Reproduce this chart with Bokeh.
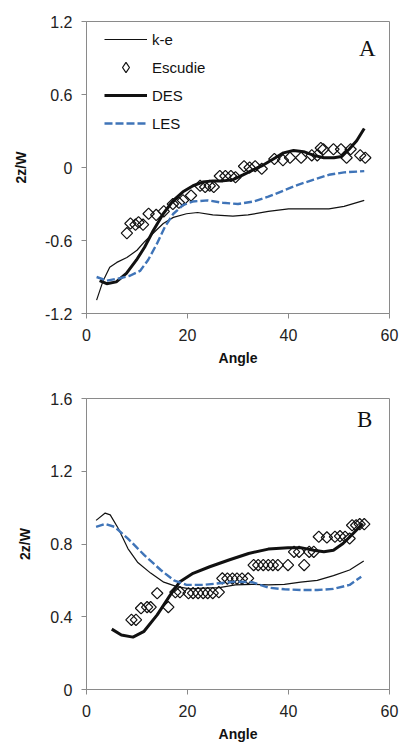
import math
from bokeh.plotting import figure
from bokeh.layouts import column
from bokeh.models import FixedTicker, Label, Range1d, Legend, LegendItem
from bokeh.embed import file_html
from bokeh.resources import INLINE

# ---------------- Panel A data ----------------
ke_a_x = [2, 3.3, 4.6, 6, 8, 10, 11.5, 13.2, 15.2, 17.2, 19.8, 22, 25, 29, 32, 36, 40, 44, 48, 51, 55]
ke_a_y = [-1.09, -0.93, -0.82, -0.78, -0.74, -0.68, -0.61, -0.54, -0.46, -0.41, -0.38, -0.37,
          -0.39, -0.40, -0.39, -0.36, -0.34, -0.34, -0.34, -0.32, -0.27]

des_a_x = [2.6, 4, 5.9, 7.9, 9.9, 11.5, 13.2, 15.2, 17.2, 19.1, 21.1, 23, 25, 27, 29, 31, 33, 35,
           37, 39, 41, 43, 45, 47, 49, 50.5, 52, 53.5, 55]
des_a_y = [-0.93, -0.955, -0.94, -0.87, -0.76, -0.655, -0.52, -0.38, -0.27, -0.20, -0.15, -0.12,
           -0.11, -0.11, -0.10, -0.06, -0.02, 0.02, 0.07, 0.12, 0.14, 0.13, 0.10, 0.08, 0.08,
           0.09, 0.15, 0.22, 0.32]

les_a_x = [2, 4, 6.6, 8.6, 10.6, 12.2, 13.9, 15.5, 17.2, 19.1, 21, 24, 27, 30, 33, 36, 39, 42,
           45, 48, 51, 55]
les_a_y = [-0.90, -0.93, -0.91, -0.89, -0.85, -0.76, -0.63, -0.49, -0.38, -0.31, -0.28, -0.27,
           -0.29, -0.30, -0.28, -0.24, -0.19, -0.14, -0.10, -0.06, -0.04, -0.03]

esc_a_x = [8.0, 8.7, 9.7, 10.3, 11.2, 12.3, 13.8, 15.3, 17.1, 18.3, 19.1, 20.7, 22.5, 23.5, 24.4,
           25.2, 26.4, 27.5, 28.6, 29.5, 31.2, 32.3, 33.4, 34.7, 37.2, 38.9, 40.3, 42.5, 44.6,
           45.7, 46.4, 46.9, 48.9, 50.4, 51.5, 52.3, 54.2, 55.2]
esc_a_y = [-0.54, -0.46, -0.47, -0.45, -0.47, -0.38, -0.39, -0.36, -0.30, -0.29, -0.27, -0.23,
           -0.15, -0.16, -0.15, -0.16, -0.07, -0.07, -0.07, -0.08, 0.01, 0.00, 0.01, -0.01,
           0.07, 0.06, 0.08, 0.08, 0.10, 0.10, 0.16, 0.15, 0.15, 0.15, 0.08, 0.15, 0.10, 0.08]

# ---------------- Panel B data ----------------
ke_b_x = [1.9, 3.7, 4.7, 6.3, 8.2, 10.1, 12.7, 15.3, 17.9, 20.5, 23.1, 26.3, 29.5, 32.8, 36,
          39.2, 42.4, 45.7, 48.9, 52.1, 54.9]
ke_b_y = [0.93, 0.97, 0.96, 0.885, 0.775, 0.70, 0.64, 0.59, 0.566, 0.553, 0.557, 0.56, 0.575,
          0.578, 0.575, 0.578, 0.59, 0.60, 0.626, 0.657, 0.706]

les_b_x = [1.9, 3.7, 5.6, 8.2, 11.4, 14.7, 17.3, 19.8, 23.1, 26.3, 29.5, 32.8, 36, 39.2, 42.4,
           45.7, 48.9, 52.1, 54.4]
les_b_y = [0.894, 0.91, 0.894, 0.83, 0.74, 0.657, 0.60, 0.575, 0.575, 0.584, 0.593, 0.59, 0.56,
           0.551, 0.547, 0.547, 0.553, 0.575, 0.62]

des_b_x = [5.0, 6.9, 9.2, 11.4, 14.0, 16.6, 18.5, 21.1, 24.4, 28.2, 32.1, 36.0, 39.9, 42.4, 45.0,
           47.0, 48.9, 50.8, 52.8, 54.7]
des_b_y = [0.332, 0.30, 0.288, 0.32, 0.41, 0.52, 0.593, 0.639, 0.675, 0.712, 0.748, 0.772, 0.78,
           0.78, 0.766, 0.757, 0.766, 0.803, 0.858, 0.912]

esc_b_x = [8.9, 9.8, 10.8, 12.0, 12.7, 14.0, 16.2, 17.6, 18.5, 20.2, 21.1, 22.1, 23.1, 24.0, 25.0,
           26.2, 26.9, 27.9, 28.9, 29.8, 30.8, 32.0, 33.1, 34.0, 35.0, 36.0, 36.9, 37.9, 39.9,
           41.1, 42.1, 43.1, 44.1, 45.0, 46.0, 47.6, 49.2, 50.2, 51.2, 52.1, 52.6, 53.4, 54.1, 55.0]
esc_b_y = [0.383, 0.383, 0.447, 0.453, 0.453, 0.529, 0.453, 0.535, 0.535, 0.529, 0.53, 0.53, 0.53,
           0.53, 0.53, 0.535, 0.611, 0.61, 0.61, 0.61, 0.61, 0.611, 0.684, 0.684, 0.684, 0.684,
           0.684, 0.684, 0.684, 0.757, 0.757, 0.684, 0.757, 0.757, 0.84, 0.836, 0.84, 0.843,
           0.84, 0.83, 0.903, 0.903, 0.909, 0.909]

x_ticks = [0, 20, 40, 60]
y_ticks_a = [-1.2, -0.6, 0, 0.6, 1.2]
y_ticks_b = [0, 0.4, 0.8, 1.2, 1.6]
legend_labels = ["k-e", "Escudie", "DES", "LES"]

FONT = "Liberation Sans"
SERIF = "Liberation Serif"
GRAY = "#8a8a8a"
BLUE = "#3f74b8"
INK = "#111111"


def make_fig(ylo, yhi, yticks, left, right, top, bottom, ylabel_standoff):
    p = figure(width=399, height=372, output_backend="svg", toolbar_location=None,
               x_range=Range1d(0, 60), y_range=Range1d(ylo, yhi),
               min_border_left=left, min_border_right=right,
               min_border_top=top, min_border_bottom=bottom)
    p.xgrid.visible = False
    p.ygrid.visible = False
    p.outline_line_color = GRAY
    p.outline_line_width = 1
    p.xaxis.ticker = FixedTicker(ticks=x_ticks)
    p.yaxis.ticker = FixedTicker(ticks=yticks)
    p.yaxis.major_label_overrides = {t: ("0" if t == 0 else f"{t:g}") for t in yticks}
    for ax in (p.xaxis, p.yaxis):
        ax.axis_line_color = GRAY
        ax.major_tick_line_color = GRAY
        ax.minor_tick_line_color = None
        ax.major_tick_in = 0
        ax.major_tick_out = 5
        ax.major_label_text_font = FONT
        ax.major_label_text_font_size = "16px"
        ax.major_label_text_color = "#222222"
        ax.axis_label_text_font = FONT
        ax.axis_label_text_font_style = "bold"
        ax.axis_label_text_font_size = "14px"
        ax.axis_label_text_color = "#111111"
    p.xaxis.axis_label = "Angle"
    p.yaxis.axis_label = "2z/W"
    p.xaxis.major_label_standoff = 10
    p.yaxis.major_label_standoff = 9
    p.xaxis.axis_label_standoff = 6
    p.yaxis.axis_label_standoff = ylabel_standoff
    return p


# ---------------- Panel A ----------------
pa = make_fig(-1.2, 1.2, y_ticks_a, 86, 10, 21, 59, 13)
r_ke = pa.line(ke_a_x, ke_a_y, line_color=INK, line_width=1.2)
pa.scatter(esc_a_x, esc_a_y, marker="square", angle=math.pi / 4, size=8,
           line_color=INK, line_width=1.2, fill_alpha=0)
r_des = pa.line(des_a_x, des_a_y, line_color=INK, line_width=3)
r_les = pa.line(les_a_x, les_a_y, line_color=BLUE, line_width=2.4, line_dash="8 3")
# legend key for the experimental points (diamond symbol, no data of its own)
r_esc_key = pa.scatter([float("nan")], [float("nan")], marker="diamond", size=10,
                       line_color=INK, line_width=1.2, fill_alpha=0)

lg = Legend(items=[LegendItem(label=legend_labels[0], renderers=[r_ke]),
                   LegendItem(label=legend_labels[1], renderers=[r_esc_key]),
                   LegendItem(label=legend_labels[2], renderers=[r_des]),
                   LegendItem(label=legend_labels[3], renderers=[r_les])])
lg.location = (18, 177)
lg.margin = 0
lg.padding = 0
lg.spacing = 2
lg.glyph_width = 43
lg.glyph_height = 26
lg.label_height = 26
lg.label_standoff = 5
lg.label_text_font = FONT
lg.label_text_font_size = "15px"
lg.label_text_color = "#111111"
lg.border_line_alpha = 0
lg.background_fill_alpha = 0
pa.add_layout(lg)
pa.add_layout(Label(x=55.6, y=0.98, text="A", text_font=SERIF, text_font_size="23px",
                    text_align="center", text_baseline="middle", text_color="#111111"))

# ---------------- Panel B ----------------
pb = make_fig(0, 1.6, y_ticks_b, 81, 8, 26, 54, 14)
pb.line(ke_b_x, ke_b_y, line_color=INK, line_width=1.2)
pb.scatter(esc_b_x, esc_b_y, marker="square", angle=math.pi / 4, size=8,
           line_color=INK, line_width=1.2, fill_alpha=0)
pb.line(des_b_x, des_b_y, line_color=INK, line_width=3)
pb.line(les_b_x, les_b_y, line_color=BLUE, line_width=2.4, line_dash="8 3")
pb.add_layout(Label(x=55.1, y=1.485, text="B", text_font=SERIF, text_font_size="23px",
                    text_align="center", text_baseline="middle", text_color="#111111"))

layout = column(pa, pb, spacing=0)
open("out.html", "w").write(file_html(layout, INLINE))
